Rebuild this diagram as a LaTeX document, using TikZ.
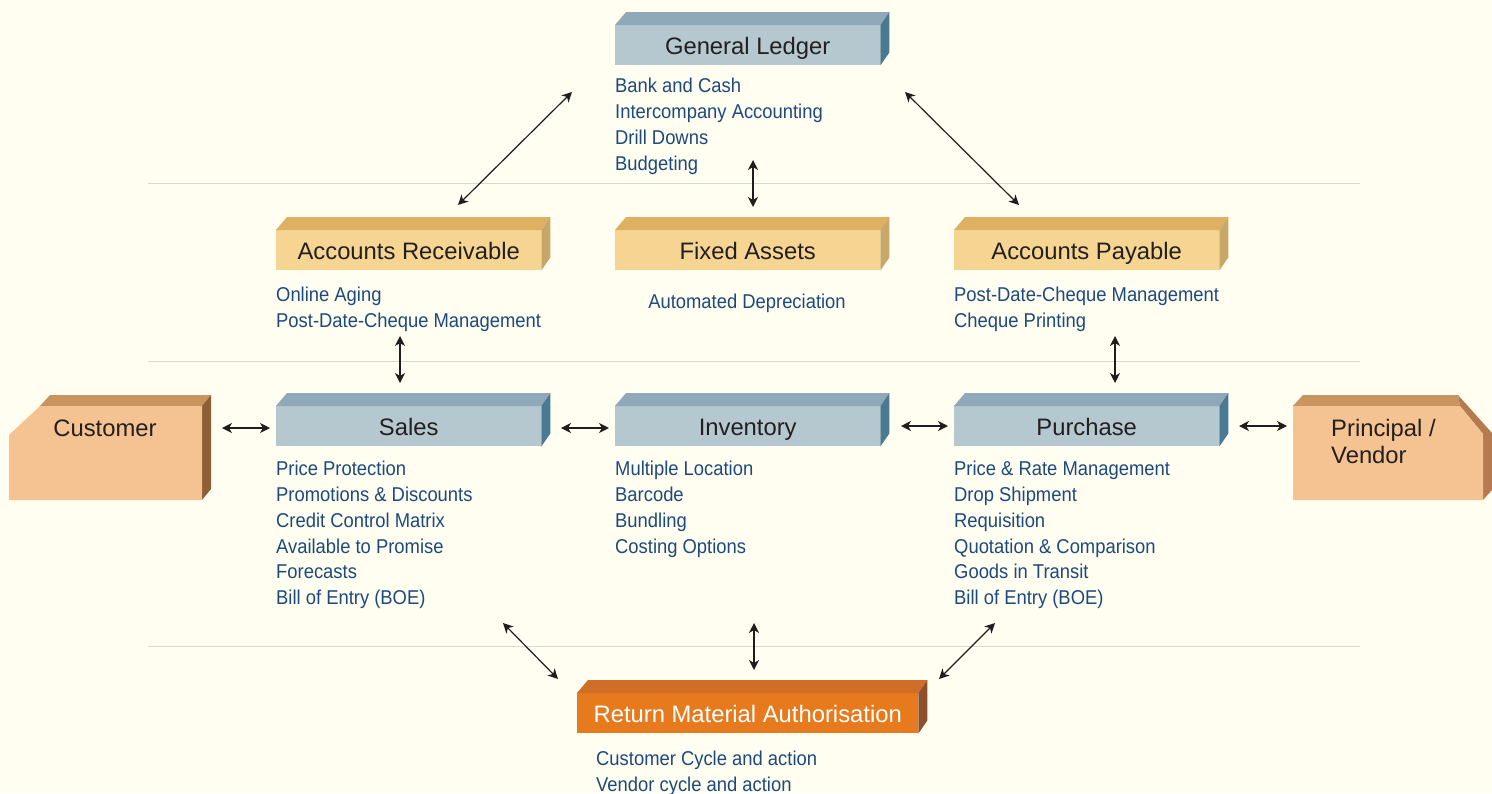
\documentclass[tikz,border=0pt]{standalone}
\usepackage{fontspec}
\setmainfont{Liberation Sans}
\newfontfamily\narrowfont[FakeStretch=0.92]{Liberation Sans}
\usetikzlibrary{arrows.meta,calc}
\definecolor{bgc}{RGB}{255,254,240}
\definecolor{itemc}{RGB}{28,74,124}
\definecolor{titlec}{RGB}{35,31,32}
\definecolor{sepc}{RGB}{218,218,202}
\definecolor{arrc}{RGB}{30,30,30}
\definecolor{blfront}{RGB}{181,200,208}
\definecolor{bltop}{RGB}{143,168,186}
\definecolor{blside}{RGB}{74,121,146}
\definecolor{yefront}{RGB}{245,213,145}
\definecolor{yetop}{RGB}{222,176,98}
\definecolor{yeside}{RGB}{200,168,104}
\definecolor{pefront}{RGB}{245,195,145}
\definecolor{petop}{RGB}{200,148,95}
\definecolor{peside}{RGB}{142,94,54}
\definecolor{pechamf}{RGB}{182,122,80}
\definecolor{orfront}{RGB}{232,122,30}
\definecolor{ortop}{RGB}{208,110,40}
\definecolor{orside}{RGB}{140,80,45}
\newcommand\titlefont{\fontsize{23.8}{27}\selectfont}
\newcommand\itemfont{\narrowfont\fontsize{20}{25.8}\selectfont}
\newcommand\boxfaces[3]{%
  \fill[#2] (#1.north west) -- ++(11,-13) -- ([shift={(9,-13)}]#1.north east) -- (#1.north east) -- cycle;
  \fill[#3] (#1.north east) -- ++(9,-13) -- ([shift={(9,-13)}]#1.south east) -- (#1.south east) -- cycle;
}
\begin{document}
\begin{tikzpicture}[x=1pt,y=-1pt,
  frontbox/.style={minimum width=265pt,minimum height=40pt,inner sep=0pt,anchor=north west,
    font=\titlefont,text=titlec,text height=20.5pt,text depth=1.5pt},
  items/.style={anchor=north west,inner sep=0pt,align=left,font=\itemfont,text=itemc,
    execute at begin node=\strut},
  sepline/.style={draw=sepc,line width=1pt},
  link/.style={draw=arrc,line width=1.2pt,{Stealth[length=10pt,width=10pt,inset=3pt]}-{Stealth[length=10pt,width=10pt,inset=3pt]}}
]
\fill[bgc] (0,0) rectangle (1492,793);
\useasboundingbox (0,0) rectangle (1492,793);

% separators
\draw[sepline] (148,183) -- (1360,183);
\draw[sepline] (148,361) -- (1360,361);
\draw[sepline] (148,646) -- (1360,646);

% General Ledger
\node[frontbox,fill=blfront] (gl) at (615,25) {General Ledger};
\boxfaces{gl}{bltop}{blside}
\node[items] (glitems) at (615,78) {Bank and Cash\\Intercompany Accounting\\Drill Downs\\Budgeting};

% row 2
\node[frontbox,fill=yefront] (ar) at (276,230) {Accounts Receivable};
\boxfaces{ar}{yetop}{yeside}
\node[frontbox,fill=yefront] (fa) at (615,230) {Fixed Assets};
\boxfaces{fa}{yetop}{yeside}
\node[frontbox,fill=yefront] (ap) at (954,230) {Accounts Payable};
\boxfaces{ap}{yetop}{yeside}
\node[items] (aritems) at (276,287) {Online Aging\\Post-Date-Cheque Management};
\node[items,anchor=north] (faitems) at (747,290) {Automated Depreciation};
\node[items] (apitems) at (954,287) {Post-Date-Cheque Management\\Cheque Printing};

% row 3
\node[frontbox,fill=blfront] (sales) at (276,406) {Sales};
\boxfaces{sales}{bltop}{blside}
\node[frontbox,fill=blfront] (inv) at (615,406) {Inventory};
\boxfaces{inv}{bltop}{blside}
\node[frontbox,fill=blfront] (pur) at (954,406) {Purchase};
\boxfaces{pur}{bltop}{blside}
\node[items] (salesitems) at (276,461) {Price Protection\\Promotions \& Discounts\\Credit Control Matrix\\Available to Promise\\Forecasts\\Bill of Entry (BOE)};
\node[items] (invitems) at (615,461) {Multiple Location\\Barcode\\Bundling\\Costing Options};
\node[items] (puritems) at (954,461) {Price \& Rate Management\\Drop Shipment\\Requisition\\Quotation \& Comparison\\Goods in Transit\\Bill of Entry (BOE)};

% Customer
\fill[petop] (40,406) -- (50,395) -- (211,395) -- (202,406) -- cycle;
\fill[peside] (202,406) -- (211,395) -- (211,489) -- (202,500) -- cycle;
\fill[pefront] (9,435) -- (40,406) -- (202,406) -- (202,500) -- (9,500) -- cycle;
\node[font=\titlefont,text=titlec,anchor=base,inner sep=0pt] (cust) at (105,436) {Customer};

% Principal / Vendor
\fill[petop] (1293,406) -- (1303,395) -- (1458,395) -- (1460,406) -- cycle;
\fill[pechamf] (1458,395) -- (1492,433) -- (1492,490) -- (1483,500) -- (1483,434) -- (1460,406) -- cycle;
\fill[pefront] (1293,406) -- (1460,406) -- (1483,434) -- (1483,500) -- (1293,500) -- cycle;
\node[font=\titlefont,text=titlec,anchor=north west,inner sep=0pt,align=left,
  execute at begin node=\strut] (vend) at (1331,419) {Principal /\\Vendor};

% RMA
\node[frontbox,fill=orfront,minimum width=341pt,text=white] (rma) at (577,693) {Return Material Authorisation};
\boxfaces{rma}{ortop}{orside}
\node[items] (rmaitems) at (596,751) {Customer Cycle and action\\Vendor cycle and action};

% arrow end points
\coordinate (glL) at (572,92);
\coordinate (arT) at (458,205);
\coordinate (glR) at (905,92);
\coordinate (apT) at (1019,205);
\coordinate (glB) at (753,160);
\coordinate (faT) at (753,207);
\coordinate (arB) at (400,336);
\coordinate (salesT) at (400,383);
\coordinate (apB) at (1115,336);
\coordinate (purT) at (1115,383);
\coordinate (custR) at (222,428);
\coordinate (salesL) at (270,428);
\coordinate (salesR) at (561,428);
\coordinate (invL) at (609,428);
\coordinate (invR) at (901,426);
\coordinate (purL) at (948,426);
\coordinate (purR) at (1239,426);
\coordinate (vendL) at (1287,426);
\coordinate (salesB) at (503,623);
\coordinate (rmaL) at (558,679);
\coordinate (invB) at (754,623);
\coordinate (rmaT) at (754,670);
\coordinate (purB) at (995,623);
\coordinate (rmaR) at (939,679);

\draw[link] (glL) -- (arT);
\draw[link] (glR) -- (apT);
\draw[link] (glB) -- (faT);
\draw[link] (arB) -- (salesT);
\draw[link] (apB) -- (purT);
\draw[link] (custR) -- (salesL);
\draw[link] (salesR) -- (invL);
\draw[link] (invR) -- (purL);
\draw[link] (purR) -- (vendL);
\draw[link] (salesB) -- (rmaL);
\draw[link] (invB) -- (rmaT);
\draw[link] (purB) -- (rmaR);
\end{tikzpicture}
\end{document}
